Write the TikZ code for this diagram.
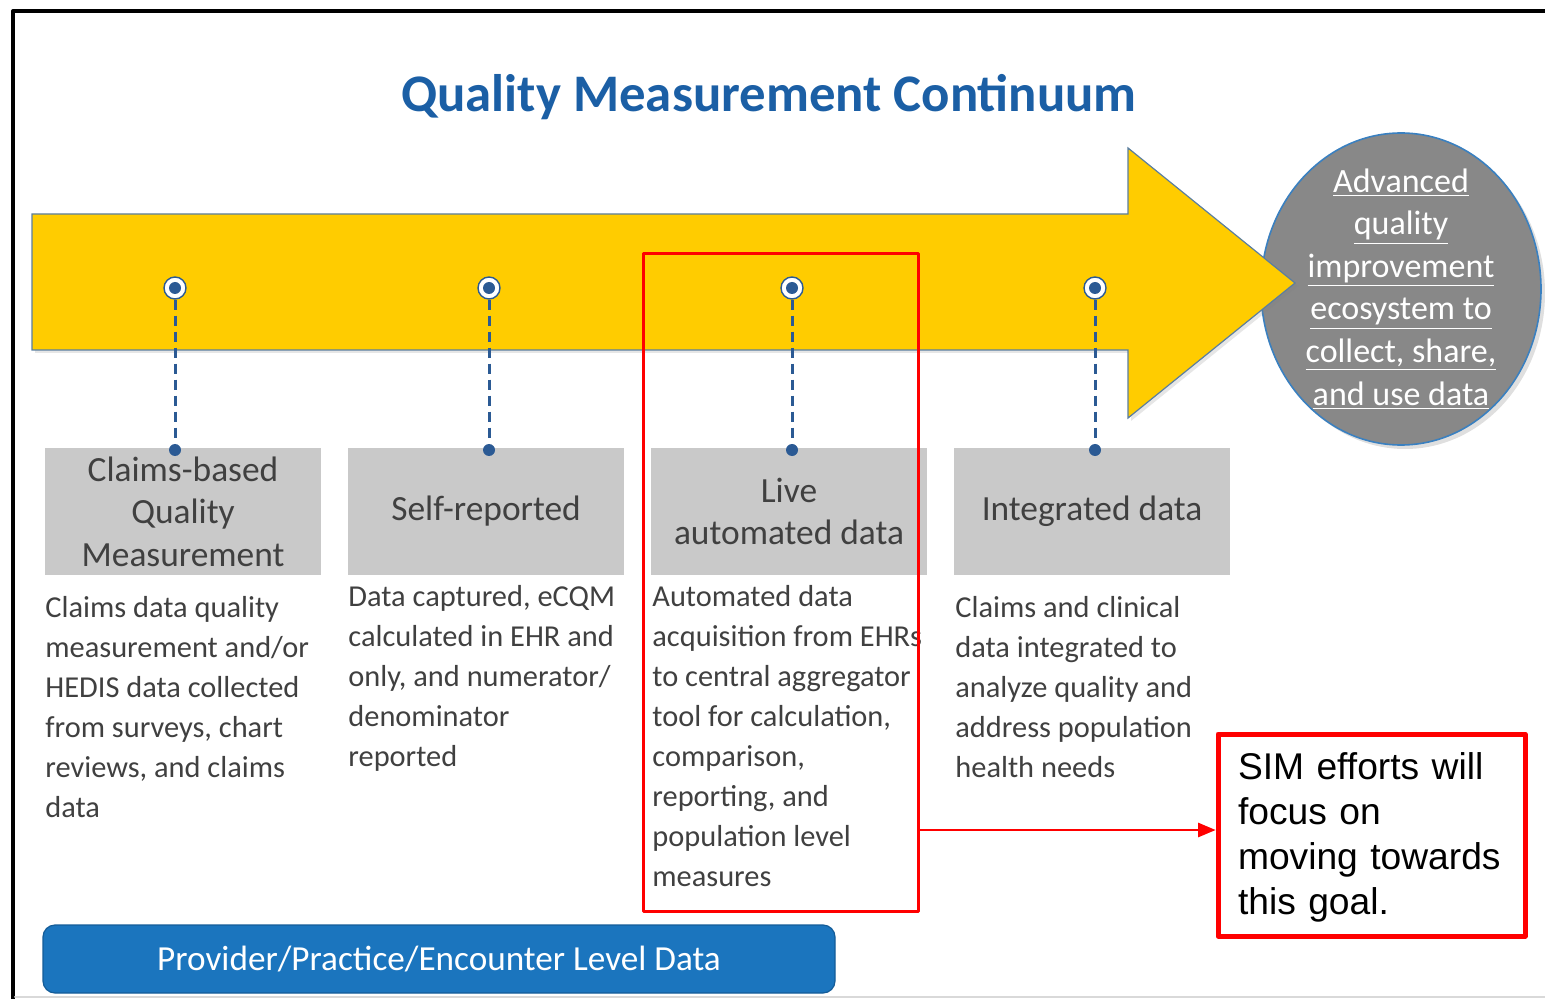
\documentclass[tikz,border=0pt]{standalone}
\usepackage{fontspec}
\setmainfont{Carlito}
\newfontfamily\arialfont{Liberation Sans}
\usetikzlibrary{arrows}
\usetikzlibrary{positioning}
\usetikzlibrary{shadows}

\definecolor{arrowgold}{HTML}{FFCC00}
\definecolor{arrowedge}{HTML}{5A7EA0}
\definecolor{qmblue}{HTML}{1B5FA5}
\definecolor{dotblue}{HTML}{2B5A94}
\definecolor{boxgray}{HTML}{C9C9C9}
\definecolor{textgray}{HTML}{404040}
\definecolor{ballgray}{HTML}{888888}
\definecolor{balledge}{HTML}{3A80C0}
\definecolor{barblue}{HTML}{1B75BE}
\definecolor{baredge}{HTML}{145C98}
\definecolor{simred}{HTML}{FF0000}

\tikzset{
  stagebox/.style={fill=boxgray, minimum width=138pt, minimum height=63.5pt, inner sep=0pt,
    align=center, text=textgray, font=\fontsize{17.7}{21.25}\selectfont},
  stagetext/.style={anchor=north west, inner sep=0pt, align=left, text=textgray,
    font=\fontsize{15.2}{20}\selectfont},
  marker/.style={circle, draw=dotblue, fill=white, line width=0.7pt, minimum size=11pt, inner sep=0pt},
  enddot/.style={circle, fill=dotblue, minimum size=6pt, inner sep=0pt},
  dashline/.style={dotblue, line width=1.5pt, line cap=butt, dash pattern=on 5pt off 3pt},
}

\begin{document}
\begin{tikzpicture}[line cap=round,line join=round,>=triangle 45,x=0.5pt,y=-0.5pt]
\useasboundingbox (0,0) rectangle (1545,999);
% frame
\draw [line width=2pt] (13,999) -- (13,11) -- (1545,11);
\draw [black!15, line width=1pt] (15,997) -- (1545,997);
% title
\node [text=qmblue, font=\bfseries\fontsize{26.4}{30}\selectfont] (title) at (769,97) {Quality Measurement Continuum};
% goal ball, under the arrow
\coordinate (goalc) at (1401,289);
\draw [draw=balledge, fill=ballgray, line width=0.8pt,
  drop shadow={opacity=0.25, shadow xshift=2pt, shadow yshift=-2pt}] (goalc) ellipse (140 and 156);
\node [inner sep=0pt, align=center, text=white, font=\fontsize{17}{21.3}\selectfont] (goal) at (goalc)
  {\underline{Advanced}\\ \underline{quality}\\ \underline{improvement}\\ \underline{ecosystem to}\\ \underline{collect, share,}\\ \underline{and use data}};
% big arrow
\draw [fill=arrowgold, draw=arrowedge, line width=0.6pt, line join=miter,
  drop shadow={opacity=0.2, shadow xshift=1.5pt, shadow yshift=-1.5pt}]
  (32,214) -- (1128,214) -- (1128,148) -- (1295,283) -- (1128,418) -- (1128,350) -- (32,350) -- cycle;

% stages
\node [stagebox] (s1) at (183,511.5) {Claims-based\\ Quality\\ Measurement};
\node [stagebox] (s2) at (486,511.5) {Self-reported};
\node [stagebox] (s3) at (789,511.5) {Live\\ automated data};
\node [stagebox] (s4) at (1092,511.5) {Integrated data};

\node [marker] (m1) at (175,288) {};
\node [marker] (m2) at (489,288) {};
\node [marker] (m3) at (792,288) {};
\node [marker] (m4) at (1095,288) {};
\fill [dotblue] (m1) circle (3pt);
\fill [dotblue] (m2) circle (3pt);
\fill [dotblue] (m3) circle (3pt);
\fill [dotblue] (m4) circle (3pt);
\node [enddot] (d1) at (175,450) {};
\node [enddot] (d2) at (489,450) {};
\node [enddot] (d3) at (792,450) {};
\node [enddot] (d4) at (1095,450) {};
\draw [dashline] (m1) -- (d1);
\draw [dashline] (m2) -- (d2);
\draw [dashline] (m3) -- (d3);
\draw [dashline] (m4) -- (d4);

\node [stagetext] (t1) at (45,596) {Claims data quality\\ measurement and/or\\ HEDIS data collected\\ from surveys, chart\\ reviews, and claims\\ data};
\node [stagetext] (t2) at (348,585) {Data captured, eCQM\\ calculated in EHR and\\ only, and numerator/\\ denominator\\ reported};
\node [stagetext] (t3) at (652,585) {Automated data\\ acquisition from EHRs\\ to central aggregator\\ tool for calculation,\\ comparison,\\ reporting, and\\ population level\\ measures};
\node [stagetext] (t4) at (955,596) {Claims and clinical\\ data integrated to\\ analyze quality and\\ address population\\ health needs};

% highlight and note
\node [draw=simred, line width=1.5pt, minimum width=137.5pt, minimum height=328.5pt, inner sep=0pt] (focus) at (780.5,582.5) {};
\node [draw=simred, line width=2.5pt, minimum width=153.5pt, minimum height=101pt, text width=133.5pt,
  inner xsep=10pt, align=left, font=\arialfont\fontsize{18.6}{22.5}\selectfont] (sim) at (1371.5,835)
  {\rule{0pt}{15.5pt}SIM efforts will\\ focus on\\ moving towards\\ this goal.};
\coordinate (tail) at (918,830);
\draw [->, simred, line width=1pt] (tail) -- (sim.west |- tail);

% level bar
\node [fill=barblue, draw=baredge, line width=0.6pt, rounded corners=6pt, minimum width=396pt, minimum height=34pt,
  text=white, font=\fontsize{17.6}{20}\selectfont] (bar) at (439,959) {Provider/Practice/Encounter Level Data};
\end{tikzpicture}
\end{document}
